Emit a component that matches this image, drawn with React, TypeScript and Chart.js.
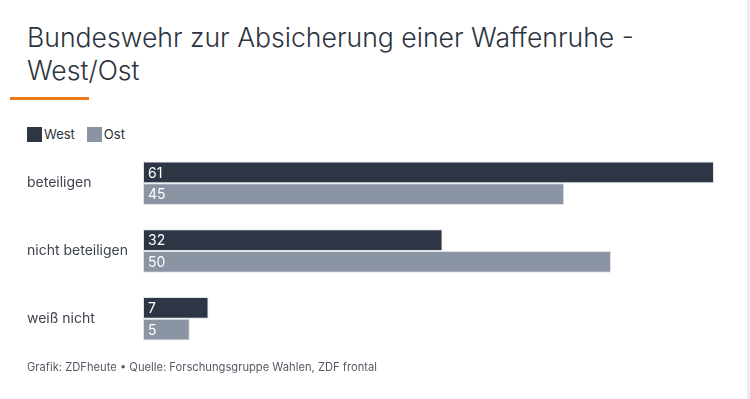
import React, { useEffect, useRef } from "react";
import { Chart, registerables } from "chart.js";

Chart.register(...registerables);

const categories = ["beteiligen", "nicht beteiligen", "weiß nicht"];
const seriesNames = ["West", "Ost"];
const westValues = [61, 32, 7];
const ostValues = [45, 50, 5];
const seriesColors = ["#2e3646", "#8a94a3"];

const titleText = "Bundeswehr zur Absicherung einer Waffenruhe - West/Ost";
const footerText = "Grafik: ZDFheute • Quelle: Forschungsgruppe Wahlen, ZDF frontal";

const FONT = "Inter, 'Noto Sans', sans-serif";

const valueLabelPlugin = {
  id: "valueLabels",
  afterDatasetsDraw(chart: any) {
    const ctx = chart.ctx;
    ctx.save();
    ctx.font = `400 14px ${FONT}`;
    ctx.fillStyle = "#ffffff";
    ctx.textAlign = "left";
    ctx.textBaseline = "middle";
    chart.data.datasets.forEach((ds: any, di: number) => {
      const meta = chart.getDatasetMeta(di);
      meta.data.forEach((bar: any, i: number) => {
        ctx.fillText(String(ds.data[i]), bar.base + 5, bar.y + 1);
      });
    });
    ctx.restore();
  },
};

export default function App() {
  const ref = useRef<HTMLCanvasElement>(null);
  useEffect(() => {
    document.body.style.margin = "0";
    const chart = new Chart(ref.current!, {
      type: "bar",
      data: {
        labels: categories,
        datasets: [
          {
            label: seriesNames[0],
            data: westValues,
            backgroundColor: seriesColors[0],
            borderColor: "#dfe3ea",
            borderWidth: 1,
            borderSkipped: false,
            categoryPercentage: 0.645,
            barPercentage: 1,
          },
          {
            label: seriesNames[1],
            data: ostValues,
            backgroundColor: seriesColors[1],
            borderColor: "#dfe3ea",
            borderWidth: 1,
            borderSkipped: false,
            categoryPercentage: 0.645,
            barPercentage: 1,
          },
        ],
      },
      options: {
        indexAxis: "y",
        animation: false,
        responsive: false,
        maintainAspectRatio: false,
        layout: { padding: { left: 27, right: 36, top: 0, bottom: 0 } },
        plugins: {
          legend: { display: false },
          tooltip: { enabled: false },
        },
        scales: {
          x: { display: false, min: 0, max: 61 },
          y: {
            grid: { display: false },
            border: { display: false },
            ticks: {
              crossAlign: "far",
              color: "#3d4350",
              font: { family: FONT, size: 14 },
              padding: 0,
            },
            afterFit(axis: any) {
              axis.width = 116;
            },
          },
        },
      },
      plugins: [valueLabelPlugin],
    } as any);
    return () => chart.destroy();
  }, []);

  return (
    <div style={{ position: "relative", width: 750, height: 399, background: "#fff", fontFamily: FONT, overflow: "hidden" }}>
      <div
        style={{
          position: "absolute",
          left: 27,
          top: 21,
          width: 660,
          fontSize: 26.6,
          lineHeight: "33px",
          fontWeight: 300,
          color: "#2d3440",
        }}
      >
        {titleText}
      </div>
      <div style={{ position: "absolute", left: 10, top: 97, width: 79, height: 3, background: "#ee7a1a" }} />
      <div style={{ position: "absolute", left: 27, top: 127, display: "flex", alignItems: "center", fontSize: 13, color: "#2d3440", lineHeight: "15px" }}>
        {seriesNames.map((n, i) => (
          <span key={n} style={{ display: "flex", alignItems: "center", marginRight: 12 }}>
            <span style={{ width: 15, height: 15, background: seriesColors[i], display: "inline-block", marginRight: 2 }} />
            {n}
          </span>
        ))}
      </div>
      <canvas ref={ref} width={750} height={220} style={{ position: "absolute", left: 0, top: 141 }} />
      <div style={{ position: "absolute", left: 27, top: 360, fontSize: 11.2, color: "#555b66", lineHeight: "14px" }}>
        {footerText}
      </div>
      <div style={{ position: "absolute", right: 0, top: 0, width: 3, height: 399, background: "#eeeeee" }} />
    </div>
  );
}
